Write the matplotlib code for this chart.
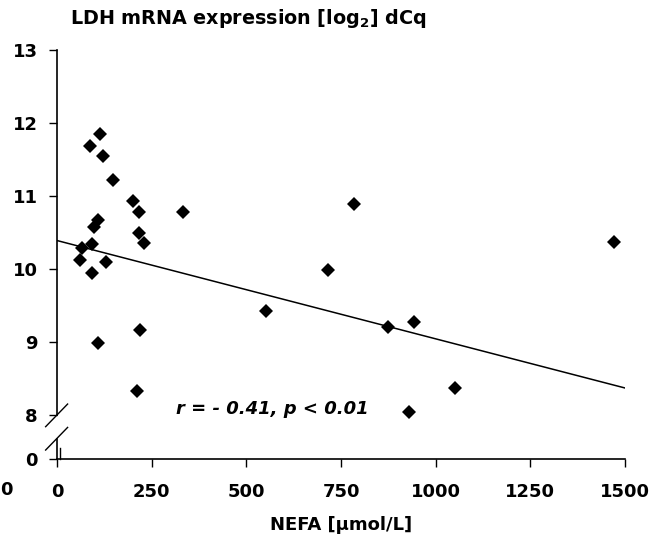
import matplotlib
matplotlib.use("Agg")
import matplotlib.pyplot as plt

plt.rcParams['font.family'] = ['DejaVu Sans']
plt.rcParams['font.weight'] = 'bold'
plt.rcParams['mathtext.fontset'] = 'dejavusans'

# Data (NEFA µmol/L vs LDH mRNA dCq)
nefa = [113, 87, 121, 147, 201, 217, 333, 109, 98, 217, 230, 92, 65, 61, 129, 92,
        219, 109, 210, 784, 1472, 716, 552, 875, 943, 1051, 929]
ldh = [11.85, 11.68, 11.55, 11.22, 10.93, 10.78, 10.78, 10.67, 10.57, 10.50, 10.36, 10.34,
       10.29, 10.12, 10.09, 9.95, 9.17, 8.99, 8.33, 10.89, 10.37, 9.98, 9.42, 9.21, 9.27,
       8.37, 8.04]

trend_x = [0, 1500]
trend_y = [10.39, 8.37]

x_ticks = [0, 250, 500, 750, 1000, 1250, 1500]
y_ticks = [8, 9, 10, 11, 12, 13]
y_labels = ['8', '9', '10', '11', '12', '13']
zero_label = '0'
title = 'LDH mRNA expression [log$_\\mathbf{2}$] dCq'
xlabel = 'NEFA [µmol/L]'
stat_text = 'r = - 0.41, p < 0.01'

FS = 13

# broken axis: value 0 drawn at this position below 8
zero_pos = 8 - 44 / 73

fig = plt.figure(figsize=(6.68, 5.48), dpi=100)
ax = fig.add_axes([57 / 668, 89 / 548, 568 / 668, 409 / 548])

ax.plot(trend_x, trend_y, color='black', lw=1.1, zorder=2)
ax.plot(nefa, ldh, linestyle='none', marker='D', ms=7.6, mew=0, color='black', zorder=3)

ax.set_xlim(0, 1500)
ax.set_ylim(zero_pos, 13)
ax.set_xticks(x_ticks)
ax.set_xticklabels([str(v) for v in x_ticks])
ax.set_yticks([zero_pos] + y_ticks)
ax.set_yticklabels([zero_label] + y_labels)
ax.tick_params(axis='both', direction='out', length=6, width=1, labelsize=FS, colors='black')
ax.tick_params(axis='x', pad=11)
ax.tick_params(axis='y', pad=8)
for lab in ax.get_xticklabels() + ax.get_yticklabels():
    lab.set_fontweight('bold')

for s in ['top', 'right']:
    ax.spines[s].set_visible(False)
ax.spines['bottom'].set_linewidth(1.2)
ax.spines['left'].set_linewidth(1.2)
ax.spines['left'].set_bounds(8, 13)

# lower piece of broken y axis
ax.plot([0, 0], [zero_pos, 7.675], color='black', lw=1.2, clip_on=False)
# break marks
ax.plot([-30, 28], [7.84, 8.15], color='black', lw=1, clip_on=False)
ax.plot([-30, 28], [7.52, 7.83], color='black', lw=1, clip_on=False)
# small stub
ax.plot([8, 8], [zero_pos, 7.55], color='black', lw=1, clip_on=False)

ax.text(314, 8.08, stat_text, fontsize=FS, fontweight='bold', fontstyle='italic',
        ha='left', va='center')

fig.text(70 / 668, 1 - 18 / 548, title, fontsize=13.8, fontweight='bold', ha='left', va='center')
ax.set_xlabel(xlabel, fontsize=FS, fontweight='bold', labelpad=11)
fig.text(0.5 / 668, 1 - 490 / 548, zero_label, fontsize=FS, fontweight='bold', ha='left', va='center')

fig.savefig('out.png', dpi=100)
